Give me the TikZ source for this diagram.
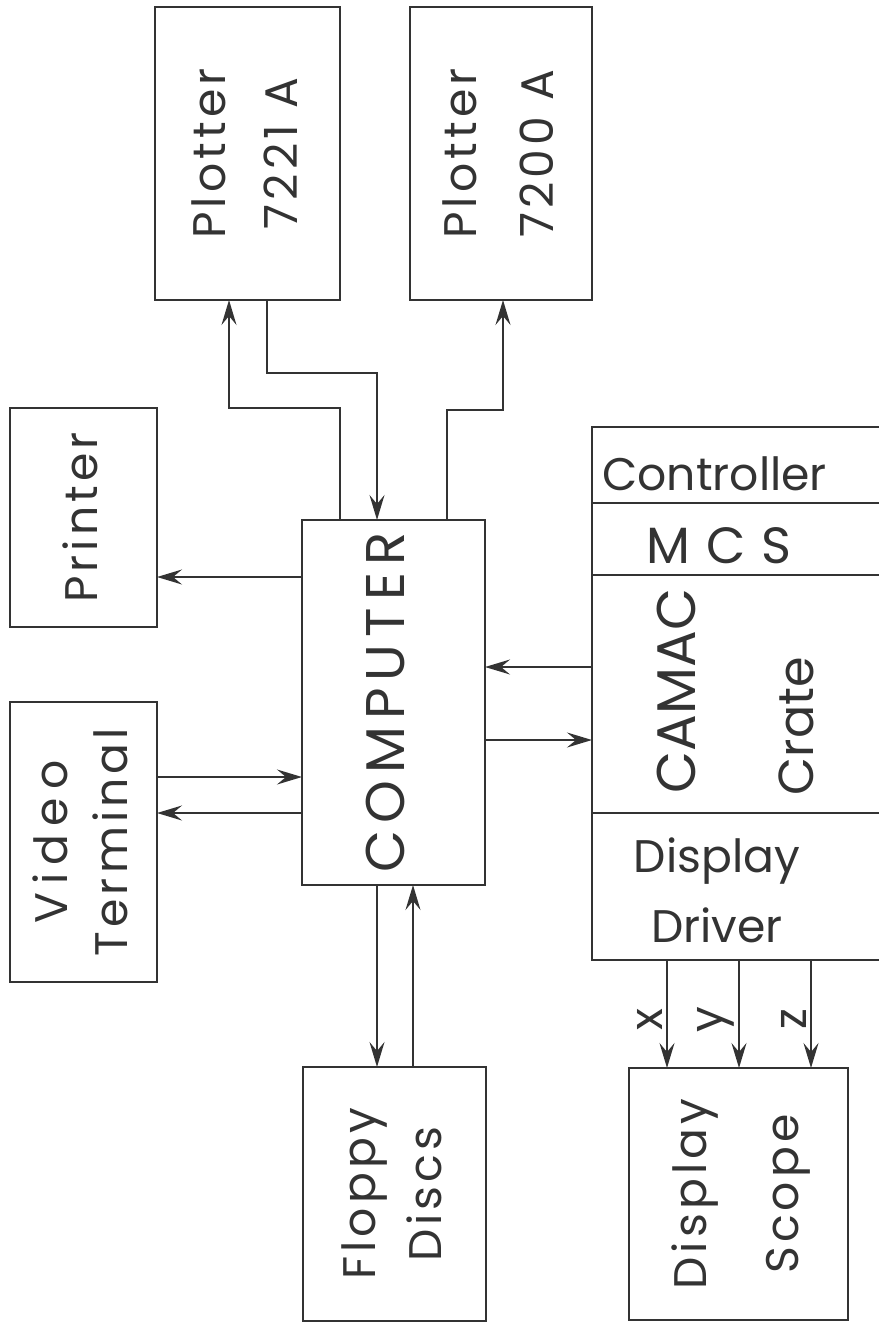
\documentclass[tikz,border=0pt]{standalone}
\usepackage{fontspec}
\setmainfont{Poppins}
\usepackage{graphicx}
\usetikzlibrary{arrows.meta}
\newcommand{\vtext}[1]{\rotatebox{90}{\begin{tabular}{@{}c@{}}#1\end{tabular}}}

\begin{document}
\begin{tikzpicture}[
  x=0.2mm, y=-0.2mm, color=black!80,
  box/.style={draw, rectangle, line width=1.5pt, inner sep=0pt, outer sep=0pt, font=\fontsize{26}{40}\selectfont\addfontfeature{LetterSpace=9}},
  part/.style={draw, rectangle, line width=1.5pt, minimum width=62.6mm, inner sep=0pt, outer sep=0pt},
  txt/.style={inner sep=0pt, font=\fontsize{26}{40}\selectfont},
  arr/.style={-{Stealth[length=5mm, width=3mm, inset=1.8mm]}, line width=1pt},
  lbl/.style={rotate=90, anchor=south, inner sep=2pt, font=\fontsize{26}{26}\selectfont}
]
\useasboundingbox (0,0) rectangle (879,1328);

% outer devices
\node[box, minimum width=37mm, minimum height=58.6mm] (p7221) at (247.5,153.5) {\vtext{Plotter\\[1pt]7221 A}};
\node[box, minimum width=36.4mm, minimum height=58.6mm] (p7200) at (501,153.5) {\vtext{Plotter\\[4pt]7200 A}};
\node[box, minimum width=29.4mm, minimum height=43.8mm] (printer) at (83.5,517.5) {\vtext{Printer}};
\node[box, minimum width=29.4mm, minimum height=56mm] (video) at (83.5,842) {\vtext{{\addfontfeature{LetterSpace=18}Video}\\[-6pt]Terminal}};
\node[box, minimum width=36.6mm, minimum height=73mm, font=\fontsize{31}{31}\selectfont\addfontfeature{LetterSpace=13}] (comp) at (393.5,702.5) {\vtext{COMPUTER}};
\node[box, minimum width=36.6mm, minimum height=50.8mm] (floppy) at (394.5,1194) {\vtext{Floppy\\[-2pt]Discs}};
\node[box, minimum width=43.8mm, minimum height=50.4mm] (scope) at (738.5,1194) {\vtext{Display\\[12pt]Scope}};

% crate
\node[part, minimum height=15.2mm] (ctrl) at (748.5,465) {};
\node[part, minimum height=14.4mm] (mcs) at (748.5,539) {};
\node[part, minimum height=47.6mm] (camac) at (748.5,694) {};
\node[part, minimum height=29.4mm] (drv) at (748.5,886.5) {};
\node[txt, anchor=base west] (ctrltxt) at (602,490) {Controller};
\node[txt, anchor=base, font=\fontsize{29}{29}\selectfont] (mcstxt) at (719,563) {M\hspace{9pt}C\hspace{9pt}S};
\node[txt, rotate=90, anchor=base, font=\fontsize{31}{31}\selectfont] (camactxt) at (695,691) {CAMAC};
\node[txt, rotate=90, anchor=base, font=\fontsize{28}{28}\selectfont] (cratetxt) at (813,726) {Crate};
\node[txt, align=center] (drvtxt) at (717,890) {Display\\Driver};

% plotters
\draw[arr] ([xshift=-10.7mm]comp.north) -- ++(0,-112) -| ([xshift=-3.7mm]p7221.south);
\draw[arr] ([xshift=3.9mm]p7221.south) -- ++(0,73) -| ([xshift=-3.3mm]comp.north);
\draw[arr] ([xshift=10.7mm]comp.north) -- ++(0,-110) -| ([xshift=0.4mm]p7200.south);

% left side
\draw[arr] ([yshift=25.1mm]comp.west) -- ([yshift=-11.9mm]printer.east);
\draw[arr] ([yshift=13mm]video.east) -- ([yshift=-14.9mm]comp.west);
\draw[arr] ([yshift=-22.1mm]comp.west) -- ([yshift=5.8mm]video.east);

% floppy
\draw[arr] ([xshift=-3.3mm]comp.south) -- ([xshift=-3.5mm]floppy.north);
\draw[arr] ([xshift=3.7mm]floppy.north) -- ([xshift=3.9mm]comp.south);

% camac
\draw[arr] ([yshift=5.4mm]camac.west) -- ([yshift=7.1mm]comp.east);
\draw[arr] ([yshift=-7.5mm]comp.east) -- ([yshift=-9.2mm]camac.west);

% scope
\draw[arr] ([xshift=-16.3mm]drv.south) -- node[lbl, pos=0.55] (lx) {x} ([xshift=-14.3mm]scope.north);
\draw[arr] ([xshift=-1.9mm]drv.south) -- node[lbl, pos=0.55] (ly) {y} ([xshift=0.1mm]scope.north);
\draw[arr] ([xshift=12.5mm]drv.south) -- node[lbl, pos=0.55] (lz) {z} ([xshift=14.5mm]scope.north);
\end{tikzpicture}
\end{document}
